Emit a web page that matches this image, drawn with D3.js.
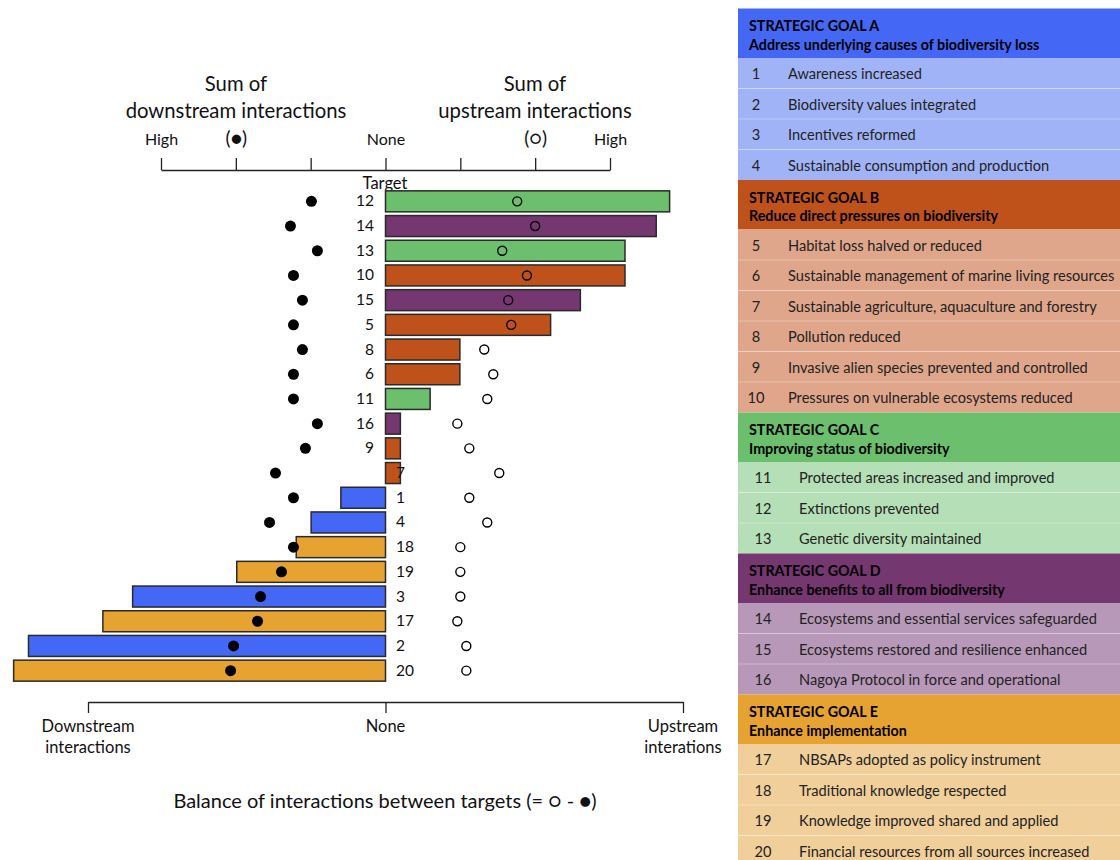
<!DOCTYPE html>
<html>
<head>
<meta charset="utf-8">
<script src="https://cdn.jsdelivr.net/npm/d3@7"></script>
<style>
  body { margin: 0; background: #fff; }
  svg { display: block; }
  text { font-family: Lato, "Open Sans", sans-serif; fill: #111; }
</style>
</head>
<body>
<div id="chart"></div>
<script>
// targets in the order they are plotted, top to bottom
const targetOrder = [12, 14, 13, 10, 15, 5, 8, 6, 11, 16, 9, 7, 1, 4, 18, 19, 3, 17, 2, 20];
// balance of interactions (bars), bottom axis units (-1 downstream .. 1 upstream)
const balance = [0.955, 0.91, 0.805, 0.805, 0.655, 0.555, 0.25, 0.25, 0.15, 0.05, 0.05, 0.05,
                 -0.15, -0.25, -0.30, -0.50, -0.85, -0.95, -1.20, -1.25];
// sum of downstream interactions (filled dots), top axis units (High = 3)
const downSum = [0.99, 1.27, 0.91, 1.23, 1.11, 1.23, 1.11, 1.23, 1.23, 0.91, 1.07, 1.47,
                 1.23, 1.55, 1.23, 1.39, 1.67, 1.71, 2.03, 2.07];
// sum of upstream interactions (open dots)
const upSum = [1.76, 2.00, 1.56, 1.89, 1.64, 1.68, 1.32, 1.44, 1.36, 0.96, 1.12, 1.52,
               1.12, 1.36, 1.00, 1.00, 1.00, 0.96, 1.08, 1.08];
// targets whose number sits right of the zero line
const labelRight = [7, 1, 4, 18, 19, 3, 17, 2, 20];

// legend
const goalLetters = ["A", "B", "C", "D", "E"];
const goalTitles = [
  "Address underlying causes of biodiversity loss",
  "Reduce direct pressures on biodiversity",
  "Improving status of biodiversity",
  "Enhance benefits to all from biodiversity",
  "Enhance implementation"
];
const goalColors = ["#4468f5", "#bf521b", "#6bbf6d", "#74376f", "#e6a331"];
const goalLight = ["#a1b3f7", "#dfa68b", "#b5dfb6", "#b898b8", "#f1cf9a"];
const targetNames = [
  "Awareness increased",
  "Biodiversity values integrated",
  "Incentives reformed",
  "Sustainable consumption and production",
  "Habitat loss halved or reduced",
  "Sustainable management of marine living resources",
  "Sustainable agriculture, aquaculture and forestry",
  "Pollution reduced",
  "Invasive alien species prevented and controlled",
  "Pressures on vulnerable ecosystems reduced",
  "Protected areas increased and improved",
  "Extinctions prevented",
  "Genetic diversity maintained",
  "Ecosystems and essential services safeguarded",
  "Ecosystems restored and resilience enhanced",
  "Nagoya Protocol in force and operational",
  "NBSAPs adopted as policy instrument",
  "Traditional knowledge respected",
  "Knowledge improved shared and applied",
  "Financial resources from all sources increased"
];
const goalOfTarget = [0, 0, 0, 0, 1, 1, 1, 1, 1, 1, 2, 2, 2, 3, 3, 3, 4, 4, 4, 4];

const W = 1120, H = 860;
const svg = d3.select("#chart").append("svg")
  .attr("width", W).attr("height", H);

const rows = targetOrder.map((t, i) => ({
  target: t, balance: balance[i], down: downSum[i], up: upSum[i], goal: goalOfTarget[t - 1]
}));

// scales
const xTop = d3.scaleLinear().domain([-3, 3]).range([161, 610]);
const xBot = d3.scaleLinear().domain([-1, 1]).range([88, 683]);
const y = d3.scaleBand().domain(targetOrder).range([189, 683])
  .paddingInner(0.15).paddingOuter(0.075);
const yc = t => y(t) + y.bandwidth() / 2;

// top axis
const topLabels = {"-3": "High", "-2": "(\u25CF)", "0": "None", "2": "(\u25CB)", "3": "High"};
const gTop = svg.append("g")
  .attr("transform", "translate(0,170)")
  .call(d3.axisTop(xTop).tickValues([-3, -2, -1, 0, 1, 2, 3])
    .tickSize(12).tickSizeOuter(0).tickPadding(13)
    .tickFormat(d => topLabels[d] || ""));
gTop.selectAll("text").attr("font-family", null)
  .style("font-size", d => Math.abs(d) === 2 ? "19px" : "16px");
gTop.selectAll("path, line").attr("stroke", "#222").attr("stroke-width", 1.3);

svg.append("text").attr("x", 236).attr("y", 91).attr("text-anchor", "middle")
  .style("font-size", "20.3px").text("Sum of");
svg.append("text").attr("x", 236).attr("y", 118).attr("text-anchor", "middle")
  .style("font-size", "20.3px").text("downstream interactions");
svg.append("text").attr("x", 535).attr("y", 91).attr("text-anchor", "middle")
  .style("font-size", "20.3px").text("Sum of");
svg.append("text").attr("x", 535).attr("y", 118).attr("text-anchor", "middle")
  .style("font-size", "20.3px").text("upstream interactions");

svg.append("text").attr("x", 385).attr("y", 189).attr("text-anchor", "middle")
  .style("font-size", "16.5px").text("Target");

// bars
svg.append("g").selectAll("rect")
  .data(rows)
  .join("rect")
  .attr("x", d => Math.min(xBot(0), xBot(d.balance)))
  .attr("y", d => y(d.target))
  .attr("width", d => Math.abs(xBot(d.balance) - xBot(0)))
  .attr("height", y.bandwidth())
  .attr("fill", d => goalColors[d.goal])
  .attr("stroke", "#2a2a2a")
  .attr("stroke-width", 1.5);

// target numbers
svg.append("g").selectAll("text")
  .data(rows)
  .join("text")
  .attr("x", d => labelRight.includes(d.target) ? 396 : 374)
  .attr("y", d => yc(d.target) + 5)
  .attr("text-anchor", d => labelRight.includes(d.target) ? "start" : "end")
  .style("font-size", "15.5px")
  .text(d => d.target);

// downstream dots
svg.append("g").selectAll("circle")
  .data(rows)
  .join("circle")
  .attr("cx", d => xTop(-d.down))
  .attr("cy", d => yc(d.target))
  .attr("r", 5.5)
  .attr("fill", "#000");

// upstream dots
svg.append("g").selectAll("circle")
  .data(rows)
  .join("circle")
  .attr("cx", d => xTop(d.up))
  .attr("cy", d => yc(d.target))
  .attr("r", 4.5)
  .attr("fill", "none")
  .attr("stroke", "#000")
  .attr("stroke-width", 1.4);

// bottom axis
const gBot = svg.append("g")
  .attr("transform", "translate(0,702)")
  .call(d3.axisBottom(xBot).tickValues([-1, 0, 1]).tickSize(11).tickSizeOuter(0).tickFormat(""));
gBot.selectAll("path, line").attr("stroke", "#222").attr("stroke-width", 1.3);

const botLabels = [[-1, ["Downstream", "interactions"]], [0, ["None"]], [1, ["Upstream", "interations"]]];
botLabels.forEach(([v, lines]) => {
  lines.forEach((s, i) => {
    svg.append("text")
      .attr("x", xBot(v)).attr("y", 732 + i * 21)
      .attr("text-anchor", "middle")
      .style("font-size", "16.5px")
      .text(s);
  });
});

svg.append("text").attr("x", 385).attr("y", 808).attr("text-anchor", "middle")
  .style("font-size", "20px")
  .text("Balance of interactions between targets (= \u25CB - \u25CF)");

// legend panel
const lg = svg.append("g");
const lx = 738, headH = 49.5, rowH = 30.5;
let ly = 8.5;
goalLetters.forEach((g, gi) => {
  lg.append("rect").attr("x", lx).attr("y", ly).attr("width", W - lx).attr("height", headH)
    .attr("fill", goalColors[gi]);
  lg.append("text").attr("x", 749).attr("y", ly + 22.5)
    .style("font-size", "14.3px").style("font-weight", "bold").style("fill", "#000")
    .text("STRATEGIC GOAL " + g);
  lg.append("text").attr("x", 749).attr("y", ly + 41)
    .style("font-size", "14.3px").style("font-weight", "bold").style("fill", "#000")
    .text(goalTitles[gi]);
  ly += headH;
  targetNames.forEach((name, ti) => {
    if (goalOfTarget[ti] !== gi) return;
    lg.append("rect").attr("x", lx).attr("y", ly).attr("width", W - lx).attr("height", rowH)
      .attr("fill", goalLight[gi]);
    if (ti > 0 && goalOfTarget[ti - 1] === gi) {
      lg.append("line").attr("x1", lx).attr("x2", W).attr("y1", ly).attr("y2", ly)
        .attr("stroke", "#fff").attr("stroke-opacity", 0.3);
    }
    const wide = gi >= 2;
    lg.append("text").attr("x", wide ? 763 : 756).attr("y", ly + 21)
      .attr("text-anchor", "middle").style("font-size", "14.6px").style("fill", "#222")
      .text(ti + 1);
    lg.append("text").attr("x", wide ? 799 : 788).attr("y", ly + 21)
      .style("font-size", "14.6px").style("fill", "#222")
      .text(name);
    ly += rowH;
  });
});
</script>
</body>
</html>
